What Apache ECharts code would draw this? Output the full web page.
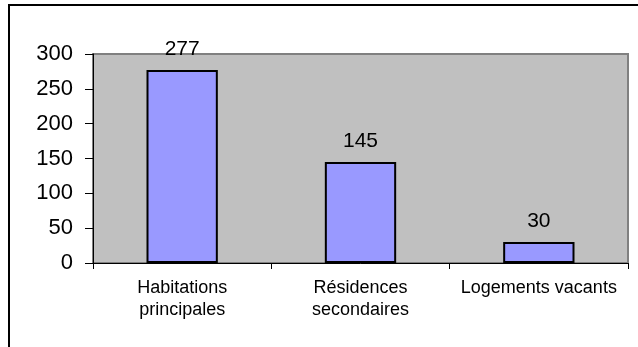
<!DOCTYPE html>
<html>
<head>
<meta charset="utf-8">
<script src="https://cdn.jsdelivr.net/npm/echarts@6/dist/echarts.min.js"></script>
<style>
  html, body { margin: 0; padding: 0; background: #ffffff; }
  #chart { width: 638px; height: 347px; }
</style>
</head>
<body>
<div id="chart"></div>
<script>
// Housing stock by type
const categories = ['Habitations\nprincipales', 'Résidences\nsecondaires', 'Logements vacants'];
const logements = [277, 145, 30];
const yTicks = { min: 0, max: 300, interval: 50 };

const FONT = '"Liberation Sans", Arial, sans-serif';

const chart = echarts.init(document.getElementById('chart'), null, { renderer: 'canvas' });

chart.setOption({
  animation: false,
  backgroundColor: '#ffffff',
  textStyle: { fontFamily: FONT },
  graphic: [{
    type: 'rect',
    shape: { x: 9, y: 5, width: 700, height: 400 },
    style: { fill: 'none', stroke: '#000000', lineWidth: 2 },
    silent: true,
    z: 100
  }],
  grid: {
    left: 93, right: 10, top: 54, bottom: 84,
    show: true,
    backgroundColor: '#c0c0c0',
    borderColor: '#808080',
    borderWidth: 2
  },
  xAxis: {
    type: 'category',
    data: categories,
    axisLine: { lineStyle: { color: '#000000', width: 1 } },
    axisTick: { show: true, alignWithLabel: false, length: 6, lineStyle: { color: '#000000' } },
    axisLabel: {
      color: '#000000', fontSize: 18, lineHeight: 22, margin: 14,
      fontFamily: FONT, interval: 0
    }
  },
  yAxis: {
    type: 'value',
    min: yTicks.min, max: yTicks.max, interval: yTicks.interval,
    axisLine: { show: true, lineStyle: { color: '#000000', width: 1 } },
    axisTick: { show: true, length: 8, lineStyle: { color: '#000000' } },
    splitLine: { show: false },
    axisLabel: { color: '#000000', fontSize: 22, margin: 20, fontFamily: FONT }
  },
  series: [{
    type: 'bar',
    data: logements,
    barWidth: '40%',
    itemStyle: { color: '#9999ff', borderColor: '#000000', borderWidth: 2 },
    label: {
      show: true, position: 'top', distance: 10,
      color: '#000000', fontSize: 21, fontFamily: FONT
    }
  }]
});
</script>
</body>
</html>
